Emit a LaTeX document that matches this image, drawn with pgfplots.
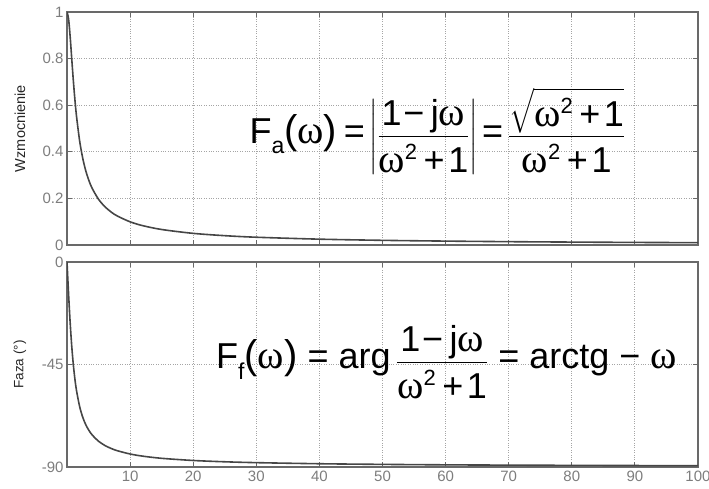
\documentclass[border=0pt]{standalone}
\usepackage{exscale}
\usepackage{pgfplots}
\pgfplotsset{compat=1.18}
\usepackage{pgfplotstable}
\usepackage{fontspec}
\setmainfont{Liberation Sans}
\newfontfamily\grk{Liberation Serif}

\definecolor{framecol}{RGB}{105,105,105}
\definecolor{gridcol}{RGB}{165,165,165}
\definecolor{curvecol}{RGB}{70,70,70}
\definecolor{labcol}{RGB}{125,125,125}

% gain |1/(1+j w)| and phase in degrees
\pgfplotstableread{
w     amp     ph
0     1.0000  0
0.25  0.9701  -14.04
0.5   0.8944  -26.57
0.75  0.8000  -36.87
1     0.7071  -45.00
1.25  0.6247  -51.34
1.5   0.5547  -56.31
2     0.4472  -63.43
2.5   0.3714  -68.20
3     0.3162  -71.57
3.5   0.2747  -74.05
4     0.2425  -75.96
5     0.1961  -78.69
6     0.1644  -80.54
7     0.1414  -81.87
8     0.1240  -82.87
10    0.0995  -84.29
12    0.0830  -85.24
15    0.0665  -86.19
20    0.0499  -87.14
25    0.0400  -87.71
30    0.0333  -88.09
40    0.0250  -88.57
50    0.0200  -88.85
60    0.0167  -89.05
70    0.0143  -89.18
80    0.0125  -89.28
90    0.0111  -89.36
100   0.0100  -89.43
}\resp

\newcommand{\om}{{\grk\fontsize{40}{44}\selectfont ω}}
\newcommand{\sq}{\raisebox{0.36em}{\fontsize{22}{24}\selectfont 2}}
\newcommand{\sub}[1]{\raisebox{-0.3em}{\fontsize{23}{26}\selectfont #1}}
\newcommand{\gap}{\hspace{0.18em}}
\newcommand{\wgap}{\hspace{0.28em}}
\newcommand{\pl}[1]{{\fontsize{40}{44}\selectfont #1}}
\newcommand{\num}{\mbox{1\hspace{0.05em}−\gap j\om}}
\newcommand{\den}{\mbox{\om\sq\gap+\hspace{0.1em}1}}

\pgfplotsset{
  bodestyle/.style={
    scale only axis,
    width=631pt,
    xmin=0, xmax=100,
    xtick={10,20,...,100},
    tick align=inside,
    major tick length=5pt,
    axis line style={framecol, line width=1.5pt},
    every tick/.style={framecol, line width=1pt},
    grid=major,
    major grid style={gridcol, dotted, line width=0.9pt},
    tick label style={font=\fontsize{15}{17}\selectfont, text=labcol},
    /pgf/number format/assume math mode=true,
    ylabel style={at={(axis description cs:-0.0745,0.5)}, anchor=center, text=black!85},
  }
}

\begin{document}
\begin{tikzpicture}
\path[use as bounding box] (0pt,0pt) rectangle (709pt,489pt);

% amplitude
\begin{axis}[bodestyle,
  at={(67pt,244pt)}, anchor=south west,
  height=233pt,
  ymin=0, ymax=1,
  ytick={0,0.2,...,1},
  yticklabels={0,0.2,0.4,0.6,0.8,1},
  xticklabels={},
  ylabel={Wzmocnienie},
  ylabel style={font=\fontsize{14.5}{16}\selectfont},
]
\addplot[curvecol, line width=1.6pt, smooth] table[x=w, y=amp] {\resp};
\node[font=\fontsize{36}{42}\selectfont, anchor=west, inner sep=0pt] at (axis cs:28.9,0.49)
  {$\displaystyle\mbox{F\sub{a}\pl{(}\om\pl{)}\gap=\hspace{0.12em}}{\left|\frac{\num}{\den\rule{0pt}{0.9em}}\right|}\mbox{\hspace{0.12em}=\hspace{0.14em}}{\frac{\sqrt{\den}}{\den\rule{0pt}{0.9em}}}$};
\end{axis}

% phase
\begin{axis}[bodestyle,
  at={(67pt,22pt)}, anchor=south west,
  height=205pt,
  ymin=-90, ymax=0,
  ytick={-90,-45,0},
  ylabel={Faza (°)},
  ylabel style={font=\fontsize{13.5}{15}\selectfont},
]
\addplot[curvecol, line width=1.6pt, smooth] table[x=w, y=ph] {\resp};
\node[font=\fontsize{36}{42}\selectfont, anchor=west, inner sep=0pt] at (axis cs:23.6,-43.9)
  {$\displaystyle\mbox{F\sub{f}\pl{(}\om\pl{)}\wgap=\wgap arg\hspace{0.15em}}{\frac{\num}{\den\rule{0pt}{0.9em}}}\mbox{\wgap=\wgap arctg\wgap−\wgap\om}$};
\end{axis}
\end{tikzpicture}
\end{document}
